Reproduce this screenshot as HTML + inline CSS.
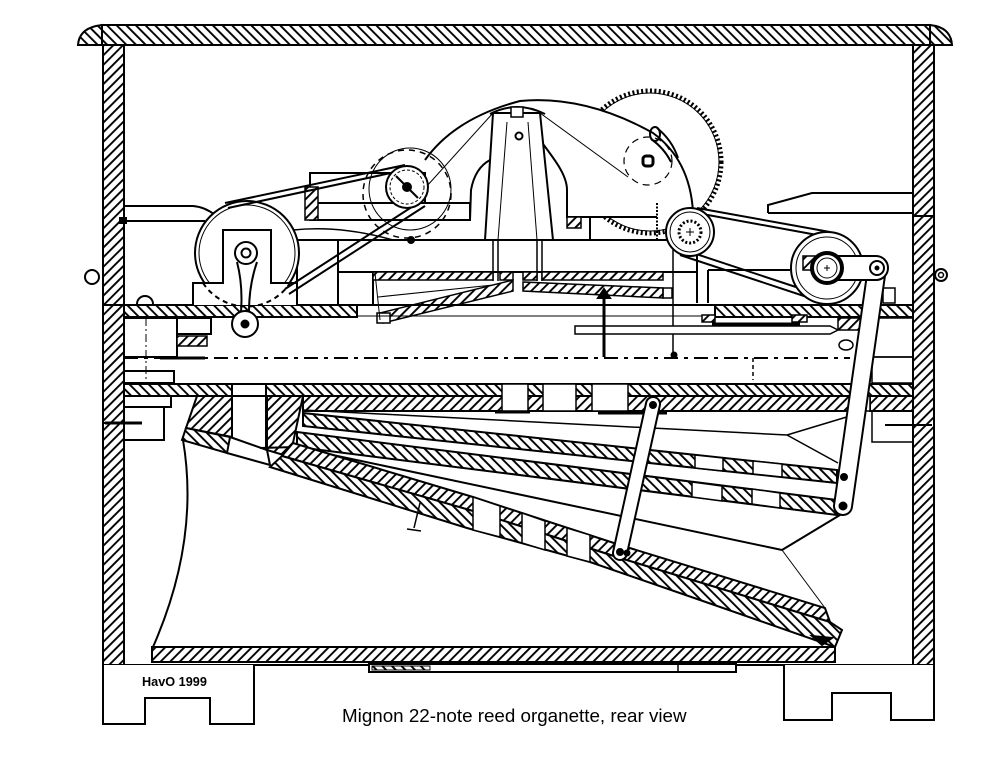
<!DOCTYPE html>
<html><head><meta charset="utf-8"><style>html,body{margin:0;padding:0;background:#fff}svg{display:block}</style></head>
<body>
<svg width="1004" height="768" viewBox="0 0 1004 768" xmlns="http://www.w3.org/2000/svg">
<defs>
<pattern id="b" width="6.8" height="6.8" patternUnits="userSpaceOnUse" patternTransform="rotate(-45)"><rect width="6.8" height="6.8" fill="#fff"/><rect x="2.4" width="1.9" height="6.8" fill="#000"/></pattern>
<pattern id="f" width="6.8" height="6.8" patternUnits="userSpaceOnUse" patternTransform="rotate(45)"><rect width="6.8" height="6.8" fill="#fff"/><rect x="2.4" width="1.9" height="6.8" fill="#000"/></pattern>
</defs>
<rect width="1004" height="768" fill="#fff"/>
<g fill="none" stroke="#000" stroke-width="2">

<!-- lid -->
<path d="M102,25 H930 V45 H102 Z" fill="url(#b)"/>
<path d="M102,25 L96,26 Q79,30 78,45 L102,45 Z" fill="url(#b)"/>
<path d="M930,25 L936,26 Q951,30 952,45 L930,45 Z" fill="url(#b)"/>

<!-- walls -->
<rect x="103" y="45" width="21" height="620" fill="url(#f)"/>
<rect x="913" y="45" width="21" height="620" fill="url(#f)"/>
<path d="M103,305 H124 M913,216 H935 M103,423 H124"/>

<!-- base and feet -->
<path d="M103,665 H934"/>
<path d="M103,665 V724 H145 V698 H210 V724 H254 V665" fill="#fff"/>
<path d="M784,665 V720 H832 V693 H891 V720 H934 V665" fill="#fff"/>

<!-- floor -->
<rect x="152" y="647" width="683" height="15" fill="url(#f)"/>
<rect x="369" y="664" width="367" height="8" fill="#fff"/>
<path d="M678,664 V672" stroke-width="1.5"/>
<rect x="372" y="666" width="58" height="4" fill="url(#b)" stroke-width="1"/>

<!-- knobs -->
<circle cx="92" cy="277" r="7" fill="#fff"/>
<circle cx="941" cy="275" r="6" fill="#fff"/>
<circle cx="941" cy="275" r="2.5" stroke-width="1.5"/>

<!-- left housing lines -->
<path d="M124,206 H193 Q205,207 215,215"/>
<path d="M124,221 H205"/>
<rect x="120" y="218" width="6" height="5" fill="#000"/>
<!-- right housing -->
<path d="M768,213 V205 L812,193 H913 M768,213 H913"/>

<!-- gear (saw wheel) -->
<circle cx="650" cy="162" r="71" stroke-width="5" stroke-dasharray="2 2.4"/>
<circle cx="650" cy="162" r="69" stroke-width="1"/>

<!-- body white fill to hide gear -->
<path d="M425,160 Q455,118 520,101 Q585,95 653,133 Q690,160 693,212 L693,217 L567,217 L567,240 L470,240 L470,220 L425,220 Z" fill="#fff" stroke="none"/>
<path d="M425,160 Q455,118 520,101 Q585,95 653,133 Q690,160 693,212"/>
<path d="M470,220 L471,190 Q475,168 490,160"/>
<path d="M540,140 C555,160 567,175 567,190 L567,217 H657"/>
<path d="M590,217 V241"/>
<rect x="567" y="217" width="14" height="11" fill="url(#f)" stroke-width="1.5"/>
<path d="M540,113 L628,177 M493,113 L417,197" stroke-width="1"/>
<circle cx="648" cy="161" r="24" stroke-width="1.2" stroke-dasharray="7 5"/>
<rect x="643" y="156" width="10" height="10" rx="3" stroke-width="3"/>
<ellipse cx="655" cy="134" rx="5" ry="7"/>
<path d="M657,128 Q672,140 678,158 M651,139 Q664,148 671,162"/>
<path d="M657,203 V243" stroke-width="2" stroke-dasharray="2 1.5"/>

<!-- platform -->
<path d="M297,240 H697"/>
<rect x="338" y="240" width="359" height="32" fill="#fff"/>
<path d="M297,240 V305 M338,272 V305 M373,272 V305"/>
<path d="M697,270 V303 M708,270 V303 M708,270 H790"/>
<path d="M673,243 V355" stroke-width="1.5"/>
<circle cx="674" cy="355" r="2.5" fill="#000"/>

<!-- column -->
<path d="M493,113 L540,113 L553,240 L485,240 Z" fill="#fff"/>
<path d="M507,122 L498,240 M528,122 L537,240" stroke-width="1"/>
<path d="M490,114 Q517,100 545,114"/>
<rect x="511" y="107" width="12" height="10" fill="#fff" stroke-width="1.5"/>
<circle cx="519" cy="136" r="3.5"/>
<path d="M493,240 V281 M498,240 V281 M537,240 V281 M542,240 V281" stroke-width="1.5"/>

<!-- hatched plates under platform -->
<rect x="373" y="272" width="120" height="8" fill="url(#f)" stroke-width="1.5"/>
<rect x="500" y="272" width="13" height="8" fill="url(#f)" stroke-width="1.5"/>
<rect x="523" y="272" width="14" height="8" fill="url(#f)" stroke-width="1.5"/>
<rect x="542" y="272" width="121" height="8" fill="url(#f)" stroke-width="1.5"/>
<path d="M523,282 L663,288 L663,298 L523,291 Z" fill="url(#f)" stroke-width="1.5"/>
<rect x="663" y="288" width="9" height="10" stroke-width="1.5"/>
<path d="M380,313 L513,280 L513,291 L383,323 Z" fill="url(#f)" stroke-width="1.5"/>
<rect x="377" y="313" width="13" height="10" fill="#fff" stroke-width="1.5"/>
<path d="M378,297 L493,285 M375,273 L380,320" stroke-width="1"/>

<!-- deck -->
<path d="M124,305 H913"/>
<rect x="124" y="305" width="233" height="12" fill="url(#b)"/>
<rect x="715" y="305" width="198" height="12" fill="url(#b)"/>
<path d="M357,316 H715" stroke-width="1"/>
<rect x="702" y="315" width="13" height="7" fill="url(#f)" stroke-width="1.5"/>
<rect x="792" y="315" width="15" height="7" fill="url(#f)" stroke-width="1.5"/>
<path d="M712,324 H800" stroke-width="3"/>
<rect x="883" y="288" width="12" height="15" fill="#fff" stroke-width="1.5"/>

<!-- rods through deck -->
<path d="M604,297 V357" stroke-width="3"/>
<path d="M598,298 L610,298 L604,289 Z" fill="#000"/>
<path d="M575,326 H830 L838,330 L830,334 H575 Z" fill="#fff" stroke-width="1.5"/>
<path d="M604,326 V357" stroke-width="3"/>
<path d="M124,358 H850" stroke-dasharray="14 6 4 6"/>
<path d="M753,358 V380" stroke-width="1.5" stroke-dasharray="4 3"/>

<!-- left deck parts -->
<rect x="124" y="318" width="53" height="39"/>
<rect x="177" y="318" width="34" height="16"/>
<rect x="177" y="336" width="30" height="10" fill="url(#f)" stroke-width="1.5"/>
<path d="M146,318 V383" stroke-width="1" stroke-dasharray="8 3 2 3"/>
<path d="M160,358 H205" stroke-width="3"/>
<rect x="124" y="371" width="50" height="12"/>
<path d="M137,304 A8,8 0 0 1 153,304" fill="#fff"/>

<!-- right deck parts -->
<rect x="838" y="318" width="24" height="12" fill="url(#f)" stroke-width="1.5"/>
<ellipse cx="846" cy="345" rx="7" ry="5" stroke-width="1.5"/>
<rect x="872" y="318" width="41" height="39" stroke-width="1.5"/>
<rect x="872" y="357" width="41" height="26" stroke-width="1.5"/>

<!-- middle board -->
<rect x="124" y="384" width="789" height="12" fill="url(#b)"/>
<rect x="303" y="396" width="547" height="15" fill="url(#f)"/>
<rect x="870" y="396" width="43" height="15" fill="url(#f)"/>
<rect x="502" y="384" width="26" height="27" fill="#fff" stroke-width="1.5"/>
<rect x="543" y="384" width="33" height="27" fill="#fff" stroke-width="1.5"/>
<rect x="592" y="384" width="36" height="27" fill="#fff" stroke-width="1.5"/>
<rect x="850" y="396" width="20" height="15" fill="#fff" stroke-width="1.5"/>
<rect x="232" y="384" width="34" height="12" fill="#fff"/>
<path d="M495,412 H530 M598,413 H667" stroke-width="3"/>
<rect x="872" y="411" width="41" height="31" stroke-width="1.5"/>

<!-- left block below board -->
<rect x="124" y="396" width="47" height="11"/>
<rect x="124" y="407" width="40" height="33"/>
<path d="M105,423 H142" stroke-width="3"/>
<path d="M885,425 H932" stroke-width="2"/>
<path d="M197,396 H232 V437 L186,428 Z" fill="url(#f)"/>
<path d="M186,428 L230,437 L227,453 L182,440 Z" fill="url(#b)"/>
<path d="M232,396 V437 M266,396 V450"/>
<path d="M230,437 L267,450 L270,465 L227,453"/>
<path d="M267,396 H303 L290,457 L267,450 Z" fill="url(#f)"/>

<!-- bellows left curve -->
<path d="M183,440 Q200,540 153,647"/>

<!-- line T and nose -->
<path d="M303,410 L787,435 M787,435 L850,416 M787,435 L838,463" stroke-width="1.5"/>

<!-- S1 -->
<path d="M303,413 L837,470 L837,483 L303,426 Z" fill="url(#b)"/>
<path d="M695,455 L723,458 L723,471 L695,468 Z M753,461 L782,464 L782,477 L753,474 Z" fill="#fff" stroke-width="1.5"/>
<!-- S2 -->
<path d="M297,432 L837,500 L837,515 L297,447 Z" fill="url(#b)"/>
<path d="M692,482 L722,486 L722,501 L692,497 Z M752,489 L780,493 L780,508 L752,504 Z" fill="#fff" stroke-width="1.5"/>

<!-- line L -->
<path d="M260,448 L295,447 L782,550 M782,550 L845,512"/>
<path d="M782,550 L825,608" stroke-width="1"/>

<!-- S3 lower board -->
<path d="M293,443 L473,497 L620,545 L825,608 L830,622 L620,558 L473,511 L282,456 Z" fill="url(#f)"/>
<path d="M282,456 L473,511 L620,558 L830,622 L842,630 L835,647 L700,600 L590,562 L467,528 L270,467 Z" fill="url(#b)"/>
<path d="M473,497 L500,506 L500,537 L473,530 Z M522,513 L545,521 L545,550 L522,543 Z M567,528 L590,535 L590,562 L567,556 Z" fill="#fff" stroke-width="1.5"/>
<path d="M812,636 L832,638 L822,645 Z" fill="#000"/>

<!-- screw -->
<path d="M420,503 L414,528 M407,529 L421,531" stroke-width="1.5"/>

<!-- rods -->
<line x1="653" y1="404" x2="620" y2="553" stroke-width="16" stroke-linecap="round"/>
<line x1="653" y1="404" x2="620" y2="553" stroke="#fff" stroke-width="12" stroke-linecap="round"/>
<circle cx="653" cy="405" r="3" fill="#000"/>
<circle cx="620" cy="552" r="3" fill="#000"/>
<circle cx="627" cy="553" r="2.5" fill="#000"/>

<line x1="877" y1="268" x2="843" y2="506" stroke-width="20" stroke-linecap="round"/>
<line x1="877" y1="268" x2="843" y2="506" stroke="#fff" stroke-width="16" stroke-linecap="round"/>
<circle cx="844" cy="477" r="3" fill="#000"/>
<circle cx="843" cy="506" r="3.5" fill="#000"/>

<!-- right belt and pulleys -->
<path d="M697,208 L830,232 M697,213 L828,237"/>
<path d="M680,255 L810,298 M684,250 L814,293"/>
<circle cx="827" cy="268" r="36" fill="#fff"/>
<circle cx="827" cy="268" r="31" stroke-width="1"/>
<rect x="803" y="256" width="17" height="14" fill="url(#f)" stroke-width="1.5"/>
<rect x="818" y="256" width="70" height="24" rx="12" fill="#fff"/>
<circle cx="877" cy="268" r="7"/>
<circle cx="877" cy="268" r="1.5" fill="#000"/>
<circle cx="827" cy="268" r="15" fill="#fff" stroke-width="4"/>
<circle cx="827" cy="268" r="10" stroke-width="1"/>
<path d="M824,268 H830 M827,265 V271" stroke-width="1"/>

<circle cx="690" cy="232" r="24" fill="#fff"/>
<circle cx="690" cy="232" r="20" stroke-width="1"/>
<circle cx="690" cy="232" r="11" stroke-width="3" stroke-dasharray="2 2"/>
<path d="M686,232 H694 M690,228 V236" stroke-width="1"/>

<!-- frame left -->
<rect x="310" y="173" width="115" height="30" fill="#fff"/>
<rect x="310" y="203" width="160" height="17" fill="#fff"/>
<path d="M305,187 H318 V220 H305 Z" fill="url(#f)" stroke-width="1.5"/>
<path d="M293,230 Q340,225 393,240" stroke-width="1.5"/>
<circle cx="411" cy="240" r="3" fill="#000"/>

<!-- left big pulley and bracket -->
<circle cx="247" cy="253" r="52" fill="#fff"/>
<circle cx="247" cy="253" r="48" stroke-width="1"/>
<path d="M193,305 V283 H223 V230 H271 V283 H297 V305" fill="#fff"/>
<path d="M203,283 A52,52 0 0 0 290,283" stroke-dasharray="5 4"/>
<path d="M237,262 Q243,285 241,312 M257,262 Q249,285 249,312" fill="#fff"/>
<circle cx="246" cy="253" r="11" fill="#fff"/>
<circle cx="246" cy="253" r="4.5"/>
<circle cx="245" cy="324" r="13" fill="#fff"/>
<circle cx="245" cy="324" r="3.5" fill="#000"/>

<!-- left belts -->
<path d="M225,203 L405,165 M228,208 L405,170"/>
<path d="M285,289 L421,201 M289,294 L425,206"/>

<!-- small left pulley -->
<circle cx="410" cy="189" r="41" stroke-width="1"/>
<circle cx="407" cy="194" r="44" stroke-width="1.5" stroke-dasharray="6 5"/>
<circle cx="407" cy="187" r="21" fill="#fff"/>
<circle cx="407" cy="187" r="17" stroke-width="1" stroke-dasharray="3 2"/>
<circle cx="407" cy="187" r="4" fill="#000"/>
<path d="M396,176 L418,198" stroke-width="2"/>
</g>

<!-- text -->
<text x="142" y="686" font-family="'Liberation Sans', Arial, sans-serif" font-weight="bold" font-size="12.7" fill="#000">HavO 1999</text>
<text x="342" y="722" font-family="'Liberation Sans', Arial, sans-serif" font-size="18.8" fill="#000">Mignon 22-note reed organette, rear view</text>
</svg>
</body></html>
